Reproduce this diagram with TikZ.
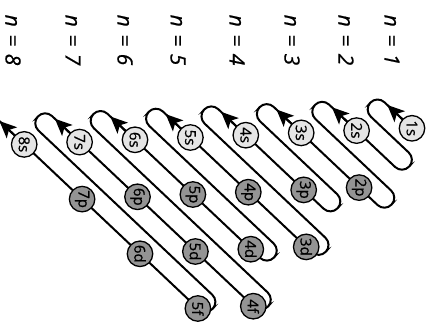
\documentclass[tikz,border=0pt]{standalone}
\usepackage{fontspec}
\setsansfont{Open Sans}
\newfontfamily\orbfont{Open Sans}[FakeBold=0.8]
\newfontfamily\shellfont{Open Sans}[FakeBold=0.6]
\usetikzlibrary{calc,arrows.meta}
\pgfdeclarelayer{bg}
\pgfsetlayers{bg,main}
\begin{document}
\begin{tikzpicture}[x=1pt,y=-1pt,
  orb/.style={circle, draw=black, line width=1.3pt, minimum size=25.5pt,
    inner sep=0pt, font=\orbfont\fontsize{15}{15}\selectfont, rotate=-90},
  sorb/.style={orb, fill=black!10},
  porb/.style={orb, fill=black!42},
  snake/.style={line width=2pt, rounded corners=9.93pt},
  headarrow/.style={line width=2pt, -{Stealth[length=17pt,width=15pt,inset=4pt]}},
  nlabel/.style={font=\shellfont\itshape\fontsize{21}{21}\selectfont, rotate=-90}]
\path[use as bounding box] (0,0) rectangle (428,328);

% shell labels
\foreach \n/\xx in {1/392,2/346,3/292,4/237,5/178,6/125,7/73,8/13}
  \node[nlabel] (lab\n) at (\xx,40) {n\hspace{2pt} = \hspace{2pt}\n};

% orbitals on a slightly skewed grid: column = n, row = l
\foreach \n/\l/\lab/\sty in {
  1/0/1s/sorb, 2/0/2s/sorb, 3/0/3s/sorb, 4/0/4s/sorb,
  5/0/5s/sorb, 6/0/6s/sorb, 7/0/7s/sorb, 8/0/8s/sorb,
  2/1/2p/porb, 3/1/3p/porb, 4/1/4p/porb, 5/1/5p/porb, 6/1/6p/porb, 7/1/7p/porb,
  3/2/3d/porb, 4/2/4d/porb, 5/2/5d/porb, 6/2/6d/porb,
  4/3/4f/porb, 5/3/5f/porb} {
  \pgfmathsetmacro\xx{412-55.4*(\n-1)+2.5*\l}
  \pgfmathsetmacro\yy{128.3+2.3*(\n-1)+57*\l}
  \node[\sty] (o\lab) at (\xx,\yy) {\lab};
}

% turning points of the filling-order path
\foreach \m/\tb in {2/53,3/105,4/107,5/167,6/172,7/240,8/240} {
  \coordinate (q2-\m) at ($(o\m s)+({(\tb+9.93)*0.7268},{(\tb+9.93)*0.6866})$);
  \coordinate (q1-\m) at ($(q2-\m)+({-19.86*(-0.6866)},{-19.86*0.7268})$);
}
\foreach \m in {1,...,8} {
  \coordinate (t1-\m) at ($(o\m s)+({-47.9*0.7268},{-47.9*0.6866})$);
  \coordinate (t2-\m) at ($(t1-\m)+({19.86*(-0.6866)},{19.86*0.7268})$);
  \coordinate (tip-\m) at ($(o\m s)+({-34*0.7268},{-34*0.6866})$);
}

\begin{pgfonlayer}{bg}
  \draw[snake] (o1s.center) -- (t1-1) -- (t2-1)
    \foreach \m in {2,...,7} { -- (q1-\m) -- (q2-\m) -- (t1-\m) -- (t2-\m) }
    -- (q1-8) -- (q2-8) -- (tip-8);
  \foreach \m in {1,...,8}
    \draw[headarrow] (o\m s.center) -- (tip-\m);
\end{pgfonlayer}
\end{tikzpicture}
\end{document}
